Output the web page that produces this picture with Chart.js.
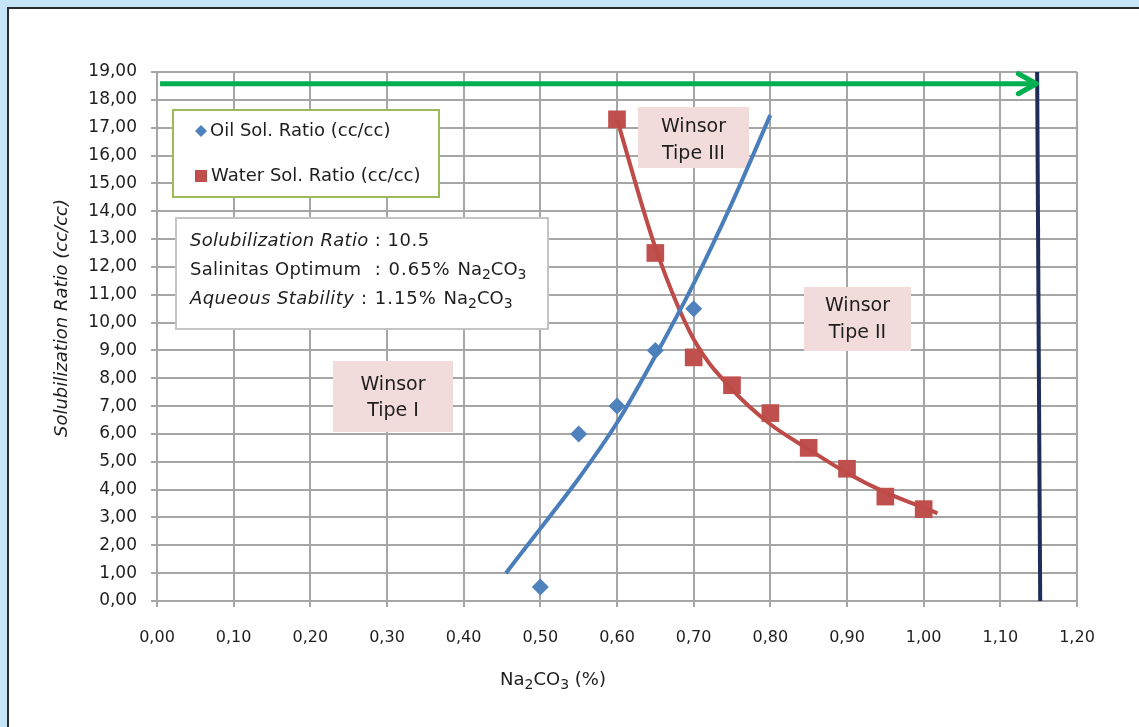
<!DOCTYPE html>
<html>
<head>
    <title>Solubilization Ratio</title>
    <script src="https://cdn.jsdelivr.net/npm/chart.js"></script>
    <style>
        body { margin: 0; background: #c6e6f8; overflow: hidden; }
        #frame { position: absolute; left: 7px; top: 7px; width: 1150px; height: 740px; background: #fff; border: 2px solid #2b2b2b; }
        #wrap { position: absolute; left: 0; top: 0; width: 1139px; height: 727px; }
    </style>
</head>
<body>
<div id="frame"></div>
<div id="wrap"><canvas id="myChart" width="1139" height="727"></canvas></div>
<script>
    // measured points
    var oilX = [0.50, 0.55, 0.60, 0.65, 0.70];
    var oilY = [0.5, 6.0, 7.0, 9.0, 10.5];
    var waterX = [0.60, 0.65, 0.70, 0.75, 0.80, 0.85, 0.90, 0.95, 1.00];
    var waterY = [17.3, 12.5, 8.75, 7.75, 6.75, 5.5, 4.75, 3.75, 3.3];

    // trend lines
    var oilTrendX = [0.455, 0.50, 0.55, 0.60, 0.65, 0.70, 0.75, 0.80];
    var oilTrendY = [1.0, 2.6, 4.4, 6.4, 8.8, 11.4, 14.3, 17.45];
    var waterTrendX = [0.60, 0.65, 0.70, 0.75, 0.80, 0.85, 0.90, 0.95, 1.00, 1.018];
    var waterTrendY = [17.3, 12.7, 9.4, 7.6, 6.35, 5.45, 4.6, 3.9, 3.35, 3.15];

    // aqueous stability marker and the arrow
    var stabX = [1.148, 1.152];
    var stabY = [19, 0];
    var arrowX = [0.004, 1.147];
    var arrowY = [18.58, 18.58];

    var xTickLabels = ['0,00', '0,10', '0,20', '0,30', '0,40', '0,50', '0,60', '0,70', '0,80', '0,90', '1,00', '1,10', '1,20'];
    var yTickLabels = ['0,00', '1,00', '2,00', '3,00', '4,00', '5,00', '6,00', '7,00', '8,00', '9,00', '10,00',
        '11,00', '12,00', '13,00', '14,00', '15,00', '16,00', '17,00', '18,00', '19,00'];

    var FONT = 'DejaVu Sans';
    var TXT = '#1e1e1e';

    function pts(xs, ys) {
        return xs.map(function (x, i) { return { x: x, y: ys[i] }; });
    }

    // pieces: [text, style, spacing]; style i = italic, s = subscript
    function setPiece(ctx, p, size) {
        var sz = p[1] === 's' ? Math.round(size * 0.75) : size;
        ctx.font = (p[1] === 'i' ? 'italic ' : '') + sz + 'px "' + FONT + '"';
        ctx.letterSpacing = (p[2] || 0) + 'px';
    }
    function richWidth(ctx, parts, size) {
        var w = 0;
        parts.forEach(function (p) { setPiece(ctx, p, size); w += ctx.measureText(p[0]).width; });
        return w;
    }
    function drawRich(ctx, parts, x, y, size, center) {
        ctx.save();
        ctx.textAlign = 'left';
        ctx.textBaseline = 'middle';
        if (center) x -= richWidth(ctx, parts, size) / 2;
        parts.forEach(function (p) {
            setPiece(ctx, p, size);
            ctx.fillText(p[0], x, p[1] === 's' ? y + size * 0.3 : y);
            x += ctx.measureText(p[0]).width;
        });
        ctx.restore();
    }

    function box(ctx, x, y, w, h, fill, stroke) {
        ctx.fillStyle = fill;
        ctx.fillRect(x, y, w, h);
        if (stroke) {
            ctx.strokeStyle = stroke;
            ctx.lineWidth = 2;
            ctx.strokeRect(x, y, w, h);
        }
    }

    var na2co3 = [['Na', ''], ['2', 's'], ['CO', ''], ['3', 's']];

    var extras = {
        id: 'extras',
        beforeDatasetsDraw: function (chart) {
            var ctx = chart.ctx;
            ctx.save();
            ctx.fillStyle = TXT;

            // legend
            box(ctx, 173, 110, 266, 87, '#fff', '#9bbb59');
            ctx.fillStyle = '#4f81bd';
            ctx.beginPath();
            ctx.moveTo(195, 131); ctx.lineTo(201, 125); ctx.lineTo(207, 131); ctx.lineTo(201, 137);
            ctx.closePath();
            ctx.fill();
            ctx.fillStyle = '#c0504d';
            ctx.fillRect(195, 170, 12, 12);
            ctx.fillStyle = TXT;
            drawRich(ctx, [['Oil Sol. Ratio (cc/cc)', '']], 210, 131, 18);
            drawRich(ctx, [['Water Sol. Ratio (cc/cc)', '']], 211, 176, 18);

            // info box
            box(ctx, 176, 218, 372, 111, '#fff', '#c4c4c4');
            ctx.fillStyle = TXT;
            drawRich(ctx, [['Solubilization Ratio', 'i', 0.3], [' : 10.5', '', 0.5]], 190, 241, 18);
            drawRich(ctx, [['Salinitas Optimum', '', 0.3], ['  : 0.65% ', '', 1]].concat(na2co3), 190, 270, 18);
            drawRich(ctx, [['Aqueous Stability', 'i', 0.4], [' : 1.15% ', '', 1]].concat(na2co3), 190, 299, 18);

            // phase regions
            [[333, 361, 120, 71, 'Winsor', 'Tipe I', 385, 411],
             [638, 107, 111, 61, 'Winsor', 'Tipe III', 127, 154],
             [804, 287, 107, 64, 'Winsor', 'Tipe II', 306, 333]].forEach(function (r) {
                box(ctx, r[0], r[1], r[2], r[3], '#f2dcdb');
                ctx.fillStyle = TXT;
                var cx = r[0] + r[2] / 2;
                drawRich(ctx, [[r[4], '']], cx, r[6], 19, true);
                drawRich(ctx, [[r[5], '']], cx, r[7], 19, true);
            });
            ctx.restore();
        },
        afterDatasetsDraw: function (chart) {
            var ctx = chart.ctx;
            // arrow head on the green line
            chart.data.datasets.forEach(function (ds, i) {
                if (!ds.arrowHead) return;
                var meta = chart.getDatasetMeta(i);
                var tip = meta.data[meta.data.length - 1];
                ctx.save();
                ctx.strokeStyle = ds.borderColor;
                ctx.lineWidth = 5;
                ctx.lineCap = 'round';
                ctx.lineJoin = 'round';
                ctx.beginPath();
                ctx.moveTo(tip.x - 18, tip.y - 10);
                ctx.lineTo(tip.x, tip.y);
                ctx.lineTo(tip.x - 18, tip.y + 10);
                ctx.stroke();
                ctx.restore();
            });
        },
        afterDraw: function (chart) {
            var ctx = chart.ctx;
            ctx.save();
            ctx.fillStyle = TXT;
            // axis titles
            drawRich(ctx, na2co3.concat([[' (%)', '']]), 553, 680, 18, true);
            ctx.translate(62, 318);
            ctx.rotate(-Math.PI / 2);
            drawRich(ctx, [['Solubilization Ratio (cc/cc)', 'i']], 0, 0, 18, true);
            ctx.restore();
        }
    };

    var ctx = document.getElementById('myChart').getContext('2d');
    var chart = new Chart(ctx, {
        type: 'scatter',
        data: {
            datasets: [{
                label: 'Green arrow',
                data: pts(arrowX, arrowY),
                showLine: true,
                borderColor: '#00b050',
                borderWidth: 5,
                pointRadius: 0,
                arrowHead: true,
                order: 0
            }, {
                label: 'Aqueous stability',
                data: pts(stabX, stabY),
                showLine: true,
                borderColor: '#1f2d5a',
                borderWidth: 4,
                pointRadius: 0,
                order: 0
            }, {
                label: 'Oil trend',
                data: pts(oilTrendX, oilTrendY),
                showLine: true,
                borderColor: '#4a7ebb',
                borderWidth: 4,
                pointRadius: 0,
                cubicInterpolationMode: 'monotone',
                order: 1
            }, {
                label: 'Water trend',
                data: pts(waterTrendX, waterTrendY),
                showLine: true,
                borderColor: '#be4b48',
                borderWidth: 4,
                pointRadius: 0,
                cubicInterpolationMode: 'monotone',
                order: 1
            }, {
                label: 'Oil Sol. Ratio (cc/cc)',
                data: pts(oilX, oilY),
                pointStyle: 'rectRot',
                pointRadius: 8.5,
                backgroundColor: '#4f81bd',
                borderColor: '#4f81bd',
                borderWidth: 0,
                order: 2
            }, {
                label: 'Water Sol. Ratio (cc/cc)',
                data: pts(waterX, waterY),
                pointStyle: 'rect',
                pointRadius: 12.5,
                backgroundColor: '#c0504d',
                borderColor: '#c0504d',
                borderWidth: 0,
                order: 2
            }]
        },
        options: {
            responsive: false,
            animation: false,
            layout: { padding: { left: 0, top: 72, right: 62, bottom: 0 } },
            plugins: {
                legend: { display: false },
                tooltip: { enabled: false }
            },
            scales: {
                x: {
                    type: 'linear',
                    min: 0,
                    max: 1.2,
                    afterFit: function (s) { s.height = 126; },
                    grid: { color: '#a6a6a6', lineWidth: 2, tickLength: 6 },
                    border: { color: '#a6a6a6', width: 2 },
                    ticks: {
                        stepSize: 0.1,
                        padding: 21,
                        color: TXT,
                        font: { family: FONT, size: 16 },
                        callback: function (v, i) { return xTickLabels[i]; }
                    }
                },
                y: {
                    min: 0,
                    max: 19,
                    afterFit: function (s) { s.width = 157; },
                    grid: { color: '#a6a6a6', lineWidth: 2, tickLength: 6 },
                    border: { color: '#a6a6a6', width: 2 },
                    ticks: {
                        stepSize: 1,
                        padding: 14,
                        color: TXT,
                        font: { family: FONT, size: 17 },
                        callback: function (v, i) { return yTickLabels[i]; }
                    }
                }
            }
        },
        plugins: [extras]
    });
</script>
</body>
</html>
